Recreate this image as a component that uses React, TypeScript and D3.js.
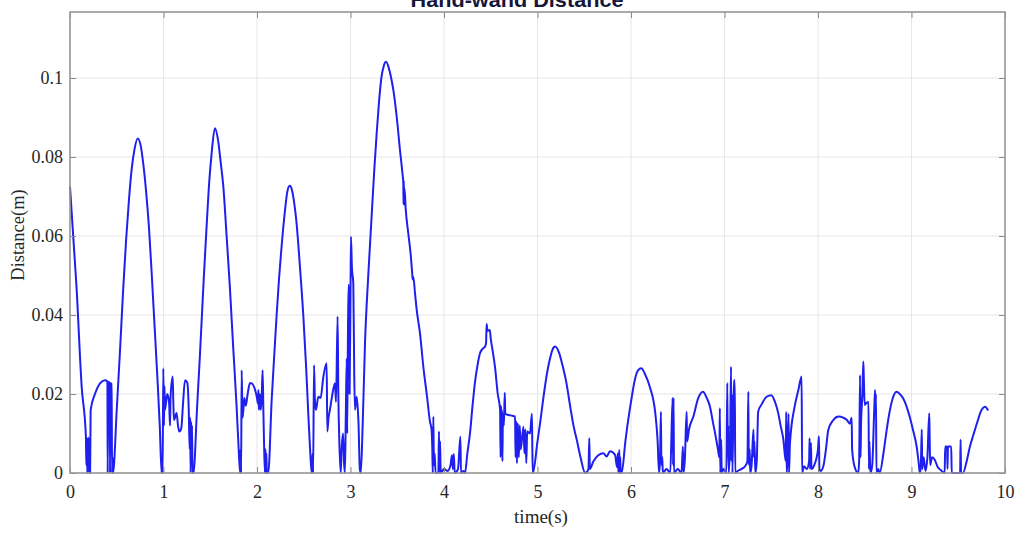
import React, { useEffect, useRef } from "react";
import * as d3 from "d3";

// time (s), distance (m), piece by piece
const segStart = [
  [0, 0.0725], [0.07, 0.047], [0.125, 0.0218], [0.17, 0.0092], [0.175, 0.002], [0.18, 0.009],
  [0.185, 0], [0.19, 0.008], [0.195, 0.001], [0.2, 0.009], [0.205, 0], [0.21, 0.007], [0.215, 0],
  [0.221, 0.016], [0.267, 0.02], [0.321, 0.0227], [0.374, 0.0235], [0.4, 0.0232], [0.403, 0],
  [0.408, 0.0231], [0.425, 0.0228], [0.428, 0], [0.433, 0.0227], [0.445, 0.0226], [0.45, 0], [0.455, 0.004],
];
const peak1 = [
  [0.46, 0], [0.5, 0.016], [0.535, 0.031], [0.57, 0.047], [0.6, 0.059], [0.63, 0.069], [0.66, 0.077],
  [0.69, 0.082], [0.724, 0.0847], [0.755, 0.083], [0.785, 0.078], [0.815, 0.071], [0.845, 0.062],
  [0.875, 0.05], [0.905, 0.037], [0.935, 0.024], [0.96, 0.012], [0.98, 0],
];
const cluster1 = [
  [0.985, 0.004], [0.99, 0], [0.998, 0.0265], [1.005, 0.012], [1.01, 0.022], [1.016, 0.016], [1.04, 0.02],
  [1.06, 0.0177], [1.07, 0.012], [1.075, 0.019], [1.098, 0.0244], [1.105, 0.018], [1.112, 0.0134],
  [1.14, 0.0152], [1.155, 0.012], [1.169, 0.0105], [1.19, 0.0113], [1.21, 0.018], [1.23, 0.0235],
  [1.255, 0.0228], [1.27, 0.016], [1.28, 0.006], [1.285, 0.014], [1.29, 0], [1.295, 0.013], [1.3, 0.004],
  [1.305, 0.012], [1.31, 0],
];
const peak2 = [
  [1.32, 0], [1.36, 0.017], [1.39, 0.03], [1.43, 0.049], [1.46, 0.062], [1.49, 0.074], [1.515, 0.081],
  [1.55, 0.0873], [1.585, 0.084], [1.61, 0.079], [1.64, 0.0725], [1.675, 0.06], [1.71, 0.047],
  [1.745, 0.032], [1.78, 0.0177], [1.8, 0.008], [1.82, 0],
];
const cluster2 = [
  [1.825, 0.006], [1.83, 0], [1.836, 0.026], [1.845, 0.014], [1.854, 0.016], [1.865, 0.019], [1.88, 0.017],
  [1.9, 0.02], [1.925, 0.0228], [1.943, 0.0227], [1.98, 0.021], [2.0, 0.019], [2.01, 0.0176], [2.015, 0.021],
  [2.02, 0.016], [2.03, 0.02], [2.04, 0.016], [2.05, 0.019], [2.06, 0.026], [2.068, 0.016], [2.075, 0.008],
  [2.085, 0], [2.09, 0.006], [2.095, 0], [2.1, 0.005], [2.105, 0],
];
const peak3 = [
  [2.12, 0], [2.157, 0.0185], [2.185, 0.03], [2.21, 0.04], [2.235, 0.049], [2.26, 0.0565], [2.3, 0.0666],
  [2.325, 0.0713], [2.35, 0.0727], [2.375, 0.0715], [2.4, 0.068], [2.42, 0.064], [2.46, 0.052],
  [2.495, 0.04], [2.525, 0.027], [2.55, 0.0143], [2.57, 0.005], [2.585, 0],
];
const cluster3 = [
  [2.595, 0.005], [2.6, 0], [2.61, 0.0273], [2.62, 0.018], [2.63, 0.016], [2.656, 0.0193], [2.68, 0.019],
  [2.71, 0.0244], [2.745, 0.0278], [2.752, 0.0105], [2.765, 0.014], [2.78, 0.016], [2.8, 0.019],
  [2.834, 0.0227], [2.845, 0.018], [2.862, 0.0396], [2.87, 0.02], [2.88, 0.0084], [2.895, 0], [2.905, 0.006],
  [2.92, 0.01], [2.93, 0.003], [2.94, 0], [2.95, 0.015], [2.96, 0.029], [2.965, 0.01], [2.977, 0.0476],
  [2.985, 0.0476], [2.99, 0.02], [3.0, 0.045], [3.005, 0.0598], [3.015, 0.052], [3.03, 0.048], [3.04, 0.025],
  [3.048, 0.016], [3.066, 0.0193], [3.085, 0.013], [3.1, 0.001], [3.11, 0],
];
const peak4 = [
  [3.13, 0.012], [3.155, 0.0328], [3.19, 0.05], [3.226, 0.065], [3.255, 0.077], [3.28, 0.086], [3.305, 0.094],
  [3.33, 0.1], [3.355, 0.103], [3.38, 0.1041], [3.41, 0.1025], [3.435, 0.1], [3.458, 0.097], [3.495, 0.09],
  [3.529, 0.0818], [3.555, 0.076], [3.565, 0.0733], [3.567, 0.068], [3.57, 0.074], [3.574, 0.068],
  [3.578, 0.072], [3.59, 0.067], [3.618, 0.0607], [3.645, 0.055], [3.66, 0.0505], [3.665, 0.049],
  [3.672, 0.0497], [3.69, 0.0455], [3.708, 0.0413], [3.743, 0.0354], [3.779, 0.0269], [3.82, 0.019],
  [3.85, 0.013], [3.867, 0.011],
];
const lowZone = [
  [3.875, 0.006], [3.88, 0], [3.886, 0.0143], [3.892, 0.002], [3.9, 0.005], [3.91, 0], [3.94, 0],
  [3.946, 0.0105], [3.952, 0], [3.958, 0.008], [3.965, 0], [4.0, 0.001], [4.04, 0.0005], [4.07, 0.002],
  [4.085, 0.0045], [4.095, 0.001], [4.105, 0.0048], [4.115, 0], [4.15, 0.001], [4.175, 0.0092], [4.182, 0],
  [4.21, 0.0005],
];
const arc5 = [
  [4.225, 0], [4.25, 0.005], [4.28, 0.0105], [4.305, 0.017], [4.33, 0.0227], [4.36, 0.0275], [4.385, 0.0303],
  [4.415, 0.0315], [4.44, 0.032], [4.45, 0.033], [4.456, 0.0377], [4.465, 0.036], [4.49, 0.0362], [4.5, 0.034],
  [4.52, 0.031], [4.545, 0.0269], [4.575, 0.02], [4.6, 0.016], [4.605, 0.004], [4.61, 0.017], [4.615, 0.005],
  [4.62, 0.016], [4.625, 0.003], [4.63, 0.015], [4.64, 0.012], [4.65, 0.0203], [4.655, 0.015], [4.69, 0.0147],
  [4.73, 0.0145], [4.76, 0.0143], [4.765, 0.004], [4.775, 0.013], [4.78, 0.0025], [4.79, 0.0125], [4.8, 0.004],
  [4.81, 0.012], [4.82, 0.006], [4.85, 0.0117], [4.86, 0.005], [4.87, 0.011], [4.88, 0.0025], [4.89, 0.0105],
  [4.92, 0.01], [4.94, 0.015], [4.945, 0.006], [4.95, 0],
];
const arc6 = [
  [5.0, 0.008], [5.03, 0.013], [5.06, 0.0185], [5.1, 0.025], [5.13, 0.0286], [5.16, 0.0312], [5.187, 0.032],
  [5.23, 0.0305], [5.27, 0.027], [5.31, 0.0227], [5.35, 0.0168], [5.385, 0.012], [5.42, 0.0084], [5.46, 0.004],
  [5.51, 0], [5.545, 0.001], [5.554, 0.0088], [5.56, 0.001], [5.597, 0.0029], [5.65, 0.0045], [5.704, 0.005],
  [5.74, 0.0042], [5.775, 0.0055], [5.83, 0.0046], [5.85, 0.0015], [5.86, 0.005], [5.865, 0], [5.875, 0.0058],
  [5.88, 0], [5.885, 0.004], [5.89, 0],
];
const arc7 = [
  [5.9, 0], [5.94, 0.008], [5.97, 0.0134], [6.0, 0.018], [6.04, 0.0235], [6.075, 0.026], [6.11, 0.0265],
  [6.15, 0.025], [6.2, 0.0219], [6.26, 0.0151], [6.285, 0.008], [6.3, 0],
];
const cluster6 = [
  [6.31, 0.003], [6.32, 0.0155], [6.325, 0.002], [6.335, 0.004], [6.34, 0], [6.38, 0.001], [6.42, 0],
  [6.445, 0.019], [6.45, 0.002], [6.455, 0.019], [6.46, 0], [6.5, 0.001], [6.54, 0], [6.555, 0.0067],
  [6.56, 0], [6.575, 0.003], [6.595, 0.0155], [6.6, 0.008],
];
const arc8 = [
  [6.62, 0.011], [6.667, 0.0143], [6.72, 0.019], [6.77, 0.0206], [6.81, 0.019], [6.845, 0.0168], [6.875, 0.013],
  [6.9, 0.01], [6.93, 0.006], [6.945, 0.004], [6.95, 0.0164], [6.955, 0], [6.965, 0.0084], [6.97, 0],
  [6.985, 0.001], [7.02, 0], [7.03, 0.0228], [7.035, 0.004], [7.04, 0.012], [7.045, 0], [7.06, 0.008],
  [7.07, 0.0269], [7.075, 0.003], [7.08, 0.02], [7.085, 0], [7.1, 0.0235], [7.11, 0.0235], [7.115, 0],
  [7.14, 0.0005], [7.18, 0.001], [7.22, 0.0017], [7.245, 0.003], [7.255, 0.0206], [7.26, 0.002], [7.27, 0.006],
  [7.275, 0], [7.29, 0.002], [7.31, 0.011], [7.315, 0.004], [7.32, 0.008], [7.33, 0],
];
const arc9 = [
  [7.345, 0.003], [7.36, 0.0155], [7.4, 0.0175], [7.45, 0.0193], [7.5, 0.0197], [7.54, 0.018], [7.575, 0.0151],
  [7.6, 0.012], [7.63, 0.0084], [7.655, 0.003], [7.66, 0.0155], [7.665, 0], [7.675, 0.004], [7.685, 0.015],
  [7.69, 0],
];
const arc10 = [
  [7.7, 0.0075], [7.75, 0.0168], [7.79, 0.021], [7.825, 0.0244], [7.83, 0], [7.85, 0.0017], [7.88, 0.001],
  [7.905, 0.003], [7.91, 0.0088], [7.915, 0.001], [7.925, 0.0076], [7.93, 0.001], [7.96, 0.002], [8.0, 0.006],
  [8.01, 0.0093], [8.015, 0.001], [8.03, 0.0005], [8.06, 0.002], [8.085, 0.006],
];
const arc11 = [
  [8.11, 0.0109], [8.16, 0.0133], [8.22, 0.0143], [8.27, 0.014], [8.31, 0.0134], [8.34, 0.0125], [8.36, 0.014],
  [8.365, 0.006], [8.39, 0.0017], [8.43, 0], [8.44, 0.003], [8.45, 0.0248], [8.455, 0.004], [8.46, 0.012],
  [8.475, 0.02], [8.485, 0.0282], [8.49, 0.024], [8.5, 0.0172], [8.52, 0.0178], [8.54, 0.018], [8.545, 0.001],
  [8.55, 0.008], [8.56, 0], [8.58, 0.002], [8.6, 0.015], [8.61, 0.021], [8.615, 0.016], [8.62, 0.02],
  [8.625, 0], [8.645, 0.001], [8.66, 0],
];
const arc12 = [
  [8.7, 0.005], [8.735, 0.011], [8.77, 0.016], [8.8, 0.019], [8.84, 0.0206], [8.875, 0.02], [8.91, 0.0189],
  [8.945, 0.017], [8.98, 0.0143], [9.02, 0.0105], [9.055, 0.0067], [9.075, 0.003], [9.09, 0], [9.1, 0.002],
  [9.11, 0.011], [9.115, 0.001], [9.13, 0.004], [9.15, 0.0005], [9.17, 0.004], [9.19, 0.0151], [9.195, 0.008],
  [9.2, 0.002], [9.22, 0.004], [9.25, 0.0033], [9.28, 0.0015], [9.31, 0.0008], [9.355, 0], [9.36, 0.0067],
  [9.38, 0.0067], [9.385, 0.001], [9.39, 0.0067], [9.425, 0.0067], [9.43, 0], [9.47, 0], [9.52, 0],
  [9.525, 0.0084], [9.53, 0],
];
const arcEnd = [
  [9.55, 0], [9.59, 0.003], [9.625, 0.0067], [9.66, 0.0095], [9.7, 0.0126], [9.75, 0.016], [9.786, 0.0168],
  [9.82, 0.0158],
];

const xTicks = [0, 1, 2, 3, 4, 5, 6, 7, 8, 9, 10];
const yTicks = [0, 0.02, 0.04, 0.06, 0.08, 0.1];
const yTickLabels = ["0", "0.02", "0.04", "0.06", "0.08", "0.1"];

export default function App() {
  const svgRef = useRef<SVGSVGElement>(null);

  useEffect(() => {
    const svg = d3.select(svgRef.current);
    svg.selectAll("*").remove();

    const data = [
      ...segStart, ...peak1, ...cluster1, ...peak2, ...cluster2, ...peak3, ...cluster3, ...peak4,
      ...lowZone, ...arc5, ...arc6, ...arc7, ...cluster6, ...arc8, ...arc9, ...arc10, ...arc11,
      ...arc12, ...arcEnd,
    ];

    const left = 70, right = 1005, top = 12, bottom = 473;
    const x = d3.scaleLinear().domain([0, 10]).range([left, right]);
    const y = d3.scaleLinear().domain([0, 0.11671]).range([bottom, top]);

    svg.append("rect").attr("width", 1022).attr("height", 535).attr("fill", "#fff");

    // grid
    const grid = svg.append("g").attr("stroke", "#e6e6e6").attr("stroke-width", 1);
    grid.selectAll("line.gx")
      .data(xTicks.slice(1, -1))
      .enter()
      .append("line")
      .attr("x1", (d) => x(d)).attr("x2", (d) => x(d))
      .attr("y1", top).attr("y2", bottom);
    grid.selectAll("line.gy")
      .data(yTicks.slice(1))
      .enter()
      .append("line")
      .attr("x1", left).attr("x2", right)
      .attr("y1", (d) => y(d)).attr("y2", (d) => y(d));

    // the signal
    const line = d3
      .line<number[]>()
      .x((d) => x(d[0]))
      .y((d) => y(d[1]))
      .curve(d3.curveMonotoneX);
    svg.append("path")
      .datum(data)
      .attr("fill", "none")
      .attr("stroke", "#1f1ff0")
      .attr("stroke-width", 2)
      .attr("stroke-linejoin", "round")
      .attr("d", line);

    const styleAxis = (g) => {
      g.select(".domain").remove();
      g.selectAll(".tick line").attr("stroke", "#8a8a8a").attr("stroke-width", 1);
      g.selectAll(".tick text")
        .attr("fill", "#262626")
        .attr("font-family", "'Liberation Serif', 'Times New Roman', serif")
        .attr("font-size", 18);
    };

    svg.append("g")
      .attr("transform", `translate(0,${bottom})`)
      .call(d3.axisBottom(x).tickValues(xTicks).tickFormat(d3.format("d")).tickSizeInner(-6).tickSizeOuter(0).tickPadding(12))
      .call(styleAxis);
    svg.append("g")
      .attr("transform", `translate(0,${top})`)
      .call(d3.axisTop(x).tickValues(xTicks).tickFormat(() => "").tickSizeInner(-6).tickSizeOuter(0))
      .call(styleAxis);
    svg.append("g")
      .attr("transform", `translate(${left},0)`)
      .call(d3.axisLeft(y).tickValues(yTicks).tickFormat((d, i) => yTickLabels[i]).tickSizeInner(-6).tickSizeOuter(0).tickPadding(7))
      .call(styleAxis);
    svg.append("g")
      .attr("transform", `translate(${right},0)`)
      .call(d3.axisRight(y).tickValues(yTicks).tickFormat(() => "").tickSizeInner(-6).tickSizeOuter(0))
      .call(styleAxis);

    // box
    svg.append("rect")
      .attr("x", left).attr("y", top)
      .attr("width", right - left).attr("height", bottom - top)
      .attr("fill", "none")
      .attr("stroke", "#959595")
      .attr("stroke-width", 1.6);

    // labels
    svg.append("text")
      .attr("x", 541).attr("y", 523)
      .attr("text-anchor", "middle")
      .attr("font-family", "'Liberation Serif', 'Times New Roman', serif")
      .attr("font-size", 19)
      .attr("fill", "#262626")
      .text("time(s)");
    svg.append("text")
      .attr("transform", `translate(24,235) rotate(-90)`)
      .attr("text-anchor", "middle")
      .attr("font-family", "'Liberation Serif', 'Times New Roman', serif")
      .attr("font-size", 18.5)
      .attr("fill", "#262626")
      .text("Distance(m)");
    svg.append("text")
      .attr("x", 517).attr("y", 7)
      .attr("text-anchor", "middle")
      .attr("font-family", "'Liberation Sans', Arial, sans-serif")
      .attr("font-weight", "bold")
      .attr("font-size", 21)
      .attr("textLength", 213)
      .attr("lengthAdjust", "spacingAndGlyphs")
      .attr("fill", "#16163a")
      .text("Hand-wand Distance");
  }, []);

  return (
    <svg
      ref={svgRef}
      width={1022}
      height={535}
      style={{ position: "absolute", left: 0, top: 0, display: "block" }}
    />
  );
}
